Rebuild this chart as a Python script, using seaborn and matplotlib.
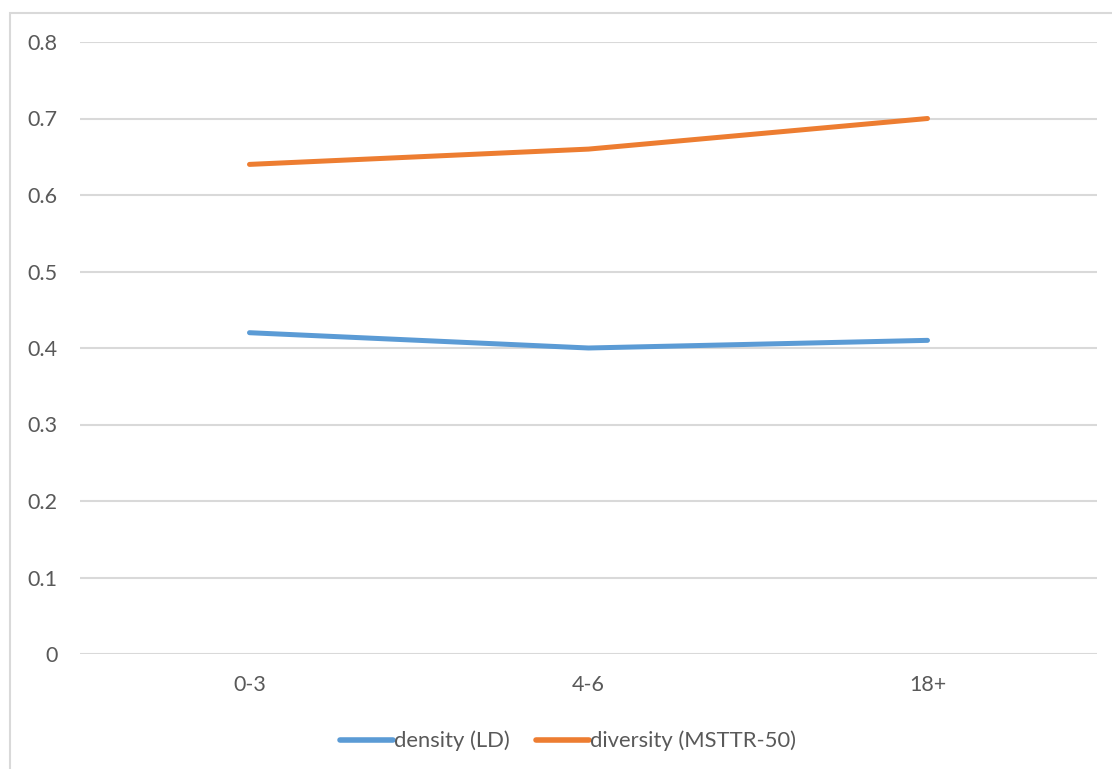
import matplotlib
matplotlib.use("Agg")
import matplotlib.pyplot as plt
import matplotlib.patches as mpatches
import seaborn as sns
import pandas as pd

# Age groups and lexical measures
age_groups = ["0-3", "4-6", "18+"]
density_ld = [0.42, 0.40, 0.41]
diversity_msttr50 = [0.64, 0.66, 0.70]
series_names = ["density (LD)", "diversity (MSTTR-50)"]
y_ticks = [0, 0.1, 0.2, 0.3, 0.4, 0.5, 0.6, 0.7, 0.8]

df = pd.DataFrame({
    "age": age_groups * 2,
    "value": density_ld + diversity_msttr50,
    "measure": [series_names[0]] * 3 + [series_names[1]] * 3,
})

sns.set_theme(style="white")
plt.rcParams["font.family"] = ["Lato", "DejaVu Sans"]

W, H = 1112, 769
fig = plt.figure(figsize=(W / 100, H / 100), dpi=100)
ax = fig.add_axes([80 / W, 1 - 654 / H, (1097 - 80) / W, (654 - 42) / H])

# Light chart-area frame
fig.patches.append(mpatches.Rectangle((10 / W, -0.1), 1.2, 1 - 13 / H + 0.1,
                                      transform=fig.transFigure, fill=False,
                                      edgecolor="#d9d9d9", linewidth=1.5))

palette = {series_names[0]: "#5B9BD5", series_names[1]: "#ED7D31"}
sns.lineplot(data=df, x="age", y="value", hue="measure", palette=palette,
             linewidth=3.6, ax=ax, sort=False, legend=True)
for ln in ax.get_lines():
    ln.set_solid_capstyle("round")

ax.set_xlim(-0.5, 2.5)
ax.set_ylim(0, 0.8)
ax.set_yticks(y_ticks)
ax.set_yticklabels(["0"] + [f"{v:.1f}" for v in y_ticks[1:]])
ax.yaxis.grid(True, color="#d9d9d9", linewidth=1.5)
ax.xaxis.grid(False)
ax.set_axisbelow(True)
for s in ax.spines.values():
    s.set_visible(False)
ax.tick_params(axis="both", length=0, labelsize=15.5, labelcolor="#595959")
ax.tick_params(axis="y", pad=16)
ax.tick_params(axis="x", pad=15)
ax.set_xlabel("")
ax.set_ylabel("")

handles, labels = ax.get_legend_handles_labels()
leg = ax.legend(handles, labels, loc="center", bbox_to_anchor=(568 / W, 1 - 741 / H),
                bbox_transform=fig.transFigure, ncol=2, frameon=False,
                fontsize=15.8, handlelength=2.4, handletextpad=0.05,
                columnspacing=1.2)
for t in leg.get_texts():
    t.set_color("#595959")
for h in leg.get_lines():
    h.set_linewidth(4)
    h.set_solid_capstyle("round")

fig.savefig("out.png", dpi=100, facecolor="white")
